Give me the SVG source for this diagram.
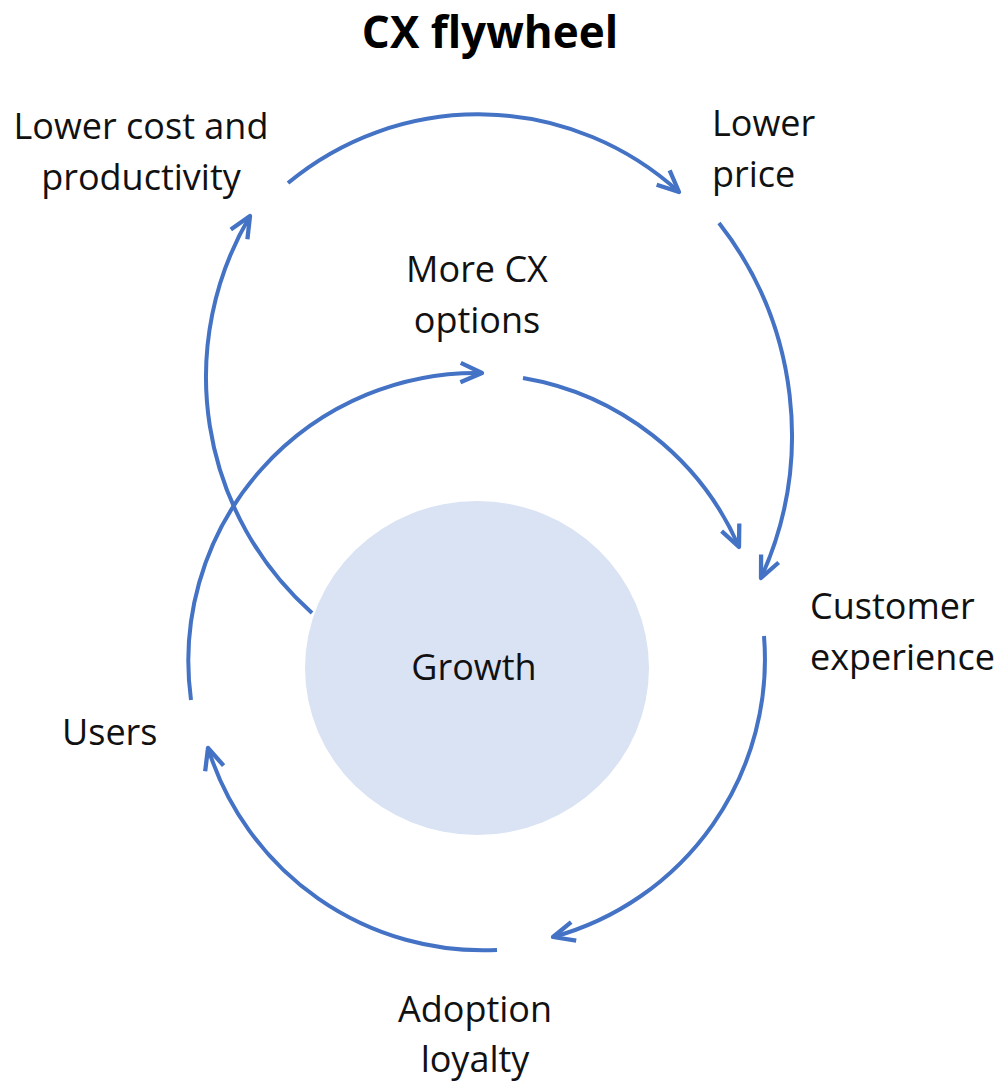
<svg xmlns="http://www.w3.org/2000/svg" width="997" height="1087" viewBox="0 0 997 1087">
  <style>
    .lbl { font-family: "Open Sans", "Noto Sans", sans-serif; font-size: 36px; fill: #111111; }
    .title { font-family: "Open Sans", "Noto Sans", sans-serif; font-size: 44px; font-weight: bold; fill: #000000; }
    .conn { fill: none; stroke: #4472C4; stroke-width: 4; stroke-linecap: butt; marker-end: url(#arrow); }
  </style>
  <defs>
    <marker id="arrow" markerUnits="userSpaceOnUse" markerWidth="30" markerHeight="30" viewBox="-24 -12 28 24" refX="0" refY="0" orient="auto">
      <path d="M -20 -9 L 0 0 L -20 9" fill="none" stroke="#4472C4" stroke-width="4" stroke-linejoin="round" stroke-linecap="butt"/>
    </marker>
  </defs>
  <rect width="997" height="1087" fill="#ffffff"/>

  <text class="title" x="490" y="48" text-anchor="middle">CX flywheel</text>

  <g id="growth">
    <ellipse cx="477" cy="668" rx="172" ry="167" fill="#DAE3F3"/>
    <text class="lbl" x="474" y="680" text-anchor="middle">Growth</text>
  </g>

  <g id="connectors">
    <path class="conn" d="M 288 183 A 298 298 0 0 1 679 192"/>
    <path class="conn" d="M 312 613 A 316 316 0 0 1 250 216"/>
    <path class="conn" d="M 191 700 A 288 288 0 0 1 482 373"/>
    <path class="conn" d="M 523 378 A 288 288 0 0 1 739 547"/>
    <path class="conn" d="M 719 223 A 345 345 0 0 1 761 578"/>
    <path class="conn" d="M 764 636 A 288 288 0 0 1 553 937"/>
    <path class="conn" d="M 497 950 A 288 288 0 0 1 208 748"/>
  </g>

  <g id="lower-cost">
    <text class="lbl" x="141" y="139" text-anchor="middle">Lower cost and</text>
    <text class="lbl" x="141" y="190" text-anchor="middle">productivity</text>
  </g>
  <g id="lower-price">
    <text class="lbl" x="712" y="136">Lower</text>
    <text class="lbl" x="712" y="187">price</text>
  </g>
  <g id="more-cx-options">
    <text class="lbl" x="477" y="282" text-anchor="middle">More CX</text>
    <text class="lbl" x="477" y="333" text-anchor="middle">options</text>
  </g>
  <g id="customer-experience">
    <text class="lbl" x="810" y="619">Customer</text>
    <text class="lbl" x="810" y="670">experience</text>
  </g>
  <g id="users">
    <text class="lbl" x="62" y="745">Users</text>
  </g>
  <g id="adoption-loyalty">
    <text class="lbl" x="475" y="1022" text-anchor="middle">Adoption</text>
    <text class="lbl" x="475" y="1072" text-anchor="middle">loyalty</text>
  </g>
</svg>
